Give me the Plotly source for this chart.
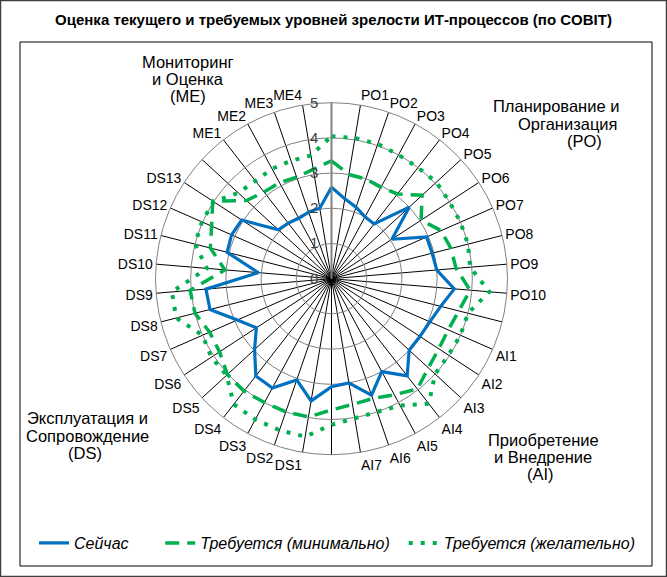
import plotly.graph_objects as go

# Categories (38 positions: 34 COBIT processes + 4 unnamed group separators)
categories = [" ",
              "PO1", "PO2", "PO3", "PO4", "PO5", "PO6", "PO7", "PO8", "PO9", "PO10",
              "  ",
              "AI1", "AI2", "AI3", "AI4", "AI5", "AI6", "AI7",
              "   ",
              "DS1", "DS2", "DS3", "DS4", "DS5", "DS6", "DS7", "DS8", "DS9", "DS10",
              "DS11", "DS12", "DS13",
              "    ",
              "ME1", "ME2", "ME3", "ME4"]

current = [2.6,
           2.3, 2.15, 2.0, 1.97, 3.0, 2.05, 2.95, 2.95, 3.0, 3.5,
           3.2,
           3.05, 3.0, 3.0, 3.5, 3.0, 3.5, 3.0,
           3.07,
           3.52, 3.04, 3.53, 3.5, 2.97, 2.55, 2.92, 3.56, 3.58, 2.09,
           3.06, 3.1, 3.05,
           2.05,
           2.0, 1.95, 2.0, 2.03]

required_min = [3.35,
                3.0, 3.0, 2.95, 3.05, 3.5, 3.04, 3.4, 3.5, 3.55, 3.95,
                3.73,
                3.62, 3.64, 3.74, 3.97, 3.75, 3.6, 3.62,
                3.73,
                3.98, 4.0, 4.0, 4.05, 4.02, 3.8, 3.78, 4.0, 4.03, 3.04,
                3.55, 3.72, 4.03,
                3.28,
                3.12, 3.1, 3.05, 3.15]

required_des = [4.05,
                4.05, 4.05, 4.0, 4.0, 4.05, 4.0, 4.0, 4.0, 3.95, 4.5,
                4.0,
                4.0, 3.97, 4.0, 4.5, 4.1, 4.0, 4.02,
                4.15,
                4.55, 4.55, 4.55, 4.52, 4.05, 4.08, 4.0, 4.55, 4.55, 3.55,
                4.0, 4.02, 4.0,
                3.6,
                3.52, 3.55, 3.54, 3.55]

radial_ticks = [0, 1, 2, 3, 4, 5]

title_text = "Оценка текущего и требуемых уровней зрелости ИТ-процессов (по COBIT)"
series_names = ["Сейчас", "Требуется (минимально)", "Требуется (желательно)"]

W, H = 667, 577
FONT = "Liberation Sans, Arial, sans-serif"
NB = "\u00a0"


def closed(vals):
    return list(vals) + [vals[0]]


theta_closed = categories + [categories[0]]

fig = go.Figure()
fig.add_trace(go.Scatterpolar(
    r=closed(current), theta=theta_closed, mode="lines",
    name=series_names[0] + NB * 6,
    line=dict(color="#0070C0", width=3.2)))
fig.add_trace(go.Scatterpolar(
    r=closed(required_min), theta=theta_closed, mode="lines",
    name=series_names[1] + NB * 2,
    line=dict(color="#00B050", width=3.5, dash="14px,8px")))
fig.add_trace(go.Scatterpolar(
    r=closed(required_des), theta=theta_closed, mode="lines",
    name=series_names[2],
    line=dict(color="#00B050", width=4, dash="4px,8px")))

cx, cy, R = 331.5, 278.7, 176.0
dom_x = [(cx - R) / W, (cx + R) / W]
dom_y = [1 - (cy + R) / H, 1 - (cy - R) / H]

fig.update_layout(
    width=W, height=H,
    margin=dict(l=0, r=0, t=0, b=0),
    paper_bgcolor="white",
    font=dict(family=FONT, size=14, color="black"),
    title=dict(text="<b>" + title_text + "</b>", x=0.5, xanchor="center",
               y=1 - 20 / H, yanchor="middle",
               font=dict(family=FONT, size=15, color="black")),
    polar=dict(
        domain=dict(x=dom_x, y=dom_y),
        bgcolor="white",
        angularaxis=dict(
            type="category", categoryorder="array", categoryarray=categories,
            rotation=90, direction="clockwise",
            showline=True, linecolor="#808080", linewidth=1,
            showgrid=True, gridcolor="black", gridwidth=0.8,
            ticks="", tickfont=dict(family=FONT, size=14, color="black")),
        radialaxis=dict(
            range=[0, 5], tickvals=radial_ticks, ticktext=[str(t) for t in radial_ticks],
            angle=90, side="counterclockwise", tickangle=90,
            showline=True, linecolor="#808080", linewidth=2,
            showgrid=True, gridcolor="#808080", gridwidth=1,
            ticks="outside", ticklen=7, tickcolor="rgba(0,0,0,0)",
            tickfont=dict(family=FONT, size=15, color="#404040")),
    ),
    legend=dict(orientation="h", x=34 / W, xanchor="left",
                y=1 - 543 / H, yanchor="middle",
                font=dict(family=FONT, size=16, color="black", style="italic"),
                bgcolor="rgba(0,0,0,0)", itemwidth=30),
    showlegend=True,
)

# frames
fig.add_shape(type="rect", xref="paper", yref="paper",
              x0=0.5 / W, x1=1 - 0.5 / W, y0=0.5 / H, y1=1 - 0.5 / H,
              line=dict(color="#404040", width=1.5), layer="below")
fig.add_shape(type="rect", xref="paper", yref="paper",
              x0=20 / W, x1=652 / W, y0=1 - 566 / H, y1=1 - 42 / H,
              line=dict(color="black", width=1), layer="below")

# group labels
groups = [
    (["Мониторинг", "и Оценка", "(ME)"], [188, 188, 188], [62, 79, 96]),
    (["Планирование и", "Организация", "(PO)"], [556, 568, 584], [106, 124, 141]),
    (["Приобретение", "и Внедрение", "(AI)"], [543, 543, 540], [440, 457, 474]),
    (["Эксплуатация и", "Сопровождение", "(DS)"], [87, 87, 85], [418, 436, 453]),
]
for lines, xs, ys in groups:
    for t, x, y in zip(lines, xs, ys):
        fig.add_annotation(text=t, xref="paper", yref="paper",
                           x=x / W, y=1 - y / H, xanchor="center", yanchor="middle",
                           showarrow=False,
                           font=dict(family=FONT, size=16.5, color="black"))

fig.write_html("out.html", config={"displayModeBar": False},
               post_script="document.body.style.margin='0px';")
